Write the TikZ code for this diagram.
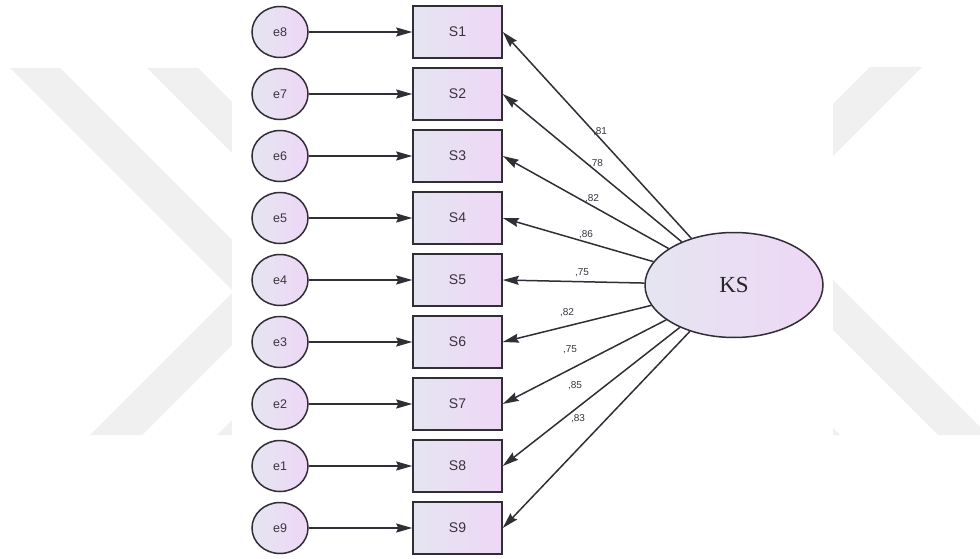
\documentclass[tikz,border=0pt]{standalone}
\usepackage{fontspec}
\setmainfont{Liberation Sans}
\newfontfamily\serifKS{Liberation Serif}
\usetikzlibrary{arrows.meta,shapes.geometric}
\definecolor{wm}{RGB}{240,240,240}
\definecolor{edgec}{RGB}{50,46,54}
\definecolor{fillL}{RGB}{229,229,241}
\definecolor{fillR}{RGB}{238,215,246}
\definecolor{txt}{RGB}{55,52,62}
\begin{document}
\begin{tikzpicture}[x=1pt,y=-1pt,
  errnode/.style={ellipse,draw=edgec,line width=1.5pt,left color=fillL,right color=fillR,
    minimum width=56pt,minimum height=51pt,inner sep=0pt,font=\fontsize{12.5}{12.5}\selectfont,text=txt},
  obsnode/.style={rectangle,draw=edgec,line width=1.5pt,left color=fillL,right color=fillR,
    minimum width=89pt,minimum height=52pt,inner sep=0pt,font=\fontsize{14}{14}\selectfont,text=txt},
  latnode/.style={ellipse,draw=edgec,line width=1.5pt,left color=fillL,right color=fillR,
    minimum width=178pt,minimum height=105pt,inner sep=0pt,font=\serifKS\fontsize{23}{23}\selectfont,text=black!85},
  conn/.style={draw=edgec,line width=1.5pt,-{Stealth[length=16pt,width=9pt,inset=2pt]}},
  coef/.style={font=\fontsize{10}{10}\selectfont,text=txt,inner sep=0pt}]
\useasboundingbox (0,0) rectangle (980,559);
\fill[white] (0,0) rectangle (980,559);
% watermark
\fill[wm] (10,68) -- (60,68) -- (284.5,292.5) -- (142,435) -- (90,435) -- (233.5,291.5) -- cycle;
\fill[wm] (147,68) -- (198,68) -- (416.5,286.5) -- (268,435) -- (217,435) -- (365.5,286.5) -- cycle;
\fill[wm] (870,67) -- (922,67) -- (771,218) -- (988,435) -- (938,435) -- (720,217) -- cycle;
\fill[wm] (733,67) -- (785,67) -- (628.5,223.5) -- (840,435) -- (790,435) -- (577.5,222.5) -- cycle;
\fill[white] (232,0) rectangle (833,559);
% diagram
\node[latnode] (KS) at (734,285) {KS\hspace{12pt}};
\foreach \e [count=\k] in {8,7,6,5,4,3,2,1,9} {
  \node[errnode] (e\e) at (280,{62*\k-30}) {e\e};
  \node[obsnode] (S\k) at (457.5,{62*\k-30}) {S\k};
  \draw[conn] (e\e) -- (S\k);
}
\foreach \k/\v/\lx/\ly in {1/81/600/132,2/78/596/164,3/82/592/199,4/86/586/235,5/75/582/273,
  6/82/567/313,7/75/570/350,8/85/575/386,9/83/578/419} {
  \draw[conn] (KS) -- (S\k.east);
  \node[coef] (c\k) at (\lx,\ly) {,\v};
}
\end{tikzpicture}
\end{document}
